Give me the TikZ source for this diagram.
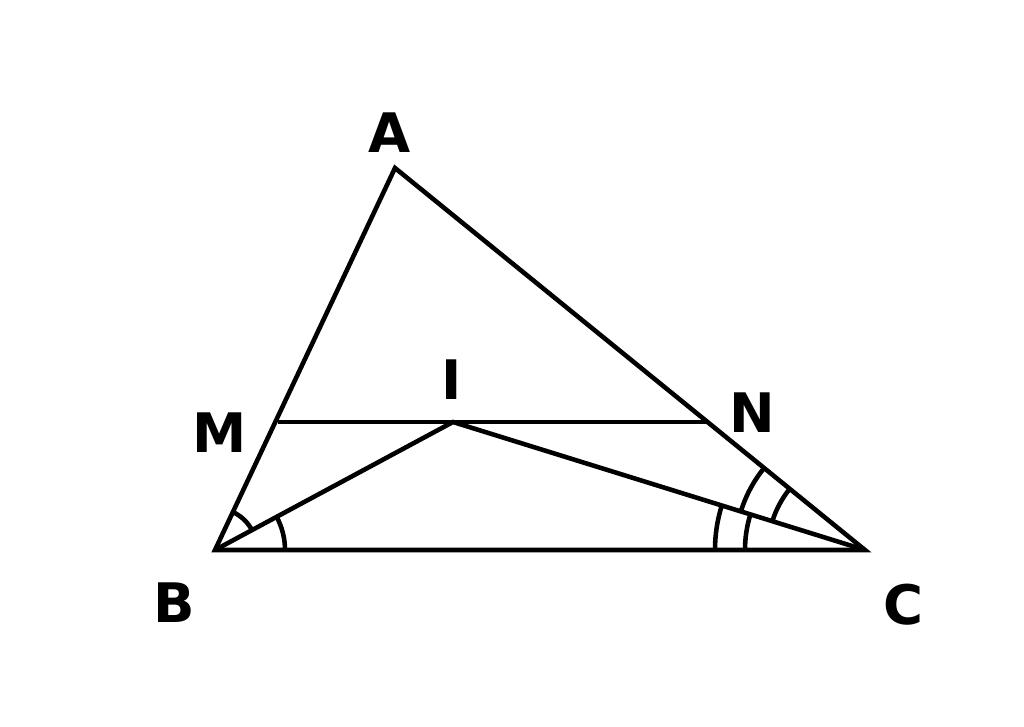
\documentclass[tikz,border=0pt]{standalone}
\usepackage{fontspec}
\setmainfont{DejaVu Sans}
\usetikzlibrary{angles, positioning}

\begin{document}
\begin{tikzpicture}[
      line width=1.3pt,
      every node/.style={font=\bfseries\fontsize{15.5}{18}\selectfont},
      lbl/.style={inner sep=0pt}
    ]
    \useasboundingbox (0,0) rectangle (10.24,7.27);

    % Points
    \coordinate (B) at (2.15,1.77);
    \coordinate (C) at (8.65,1.77);
    \coordinate (A) at (3.95,5.59);
    \coordinate (M) at (2.78,3.05);
    \coordinate (N) at (7.06,3.05);
    \coordinate (I) at (4.53,3.05);

    % Labels
    \node[lbl] (la) at (3.90,5.94) {A};
    \node[lbl] (li) at (4.52,3.47) {I};
    \node[lbl] (lm) at (2.20,2.94) {M};
    \node[lbl] (ln) at (7.52,3.14) {N};
    \node[lbl] (lb) at (1.74,1.24) {B};
    \node[lbl] (lc) at (9.03,1.22) {C};

    % Sides
    \draw (A) -- (B) -- (C) -- cycle;
    \draw (M) -- (N);
    \draw (B) -- (I) -- (C);

    % Angle marks
    \draw pic[draw, angle radius=0.42cm] {angle=I--B--A};
    \draw pic[draw, angle radius=0.70cm] {angle=C--B--I};
    \draw pic[draw, angle radius=1.50cm] {angle=I--C--B};
    \draw pic[draw, angle radius=1.20cm] {angle=I--C--B};
    \draw pic[draw, angle radius=1.30cm] {angle=A--C--I};
    \draw pic[draw, angle radius=0.97cm] {angle=A--C--I};
\end{tikzpicture}
\end{document}
